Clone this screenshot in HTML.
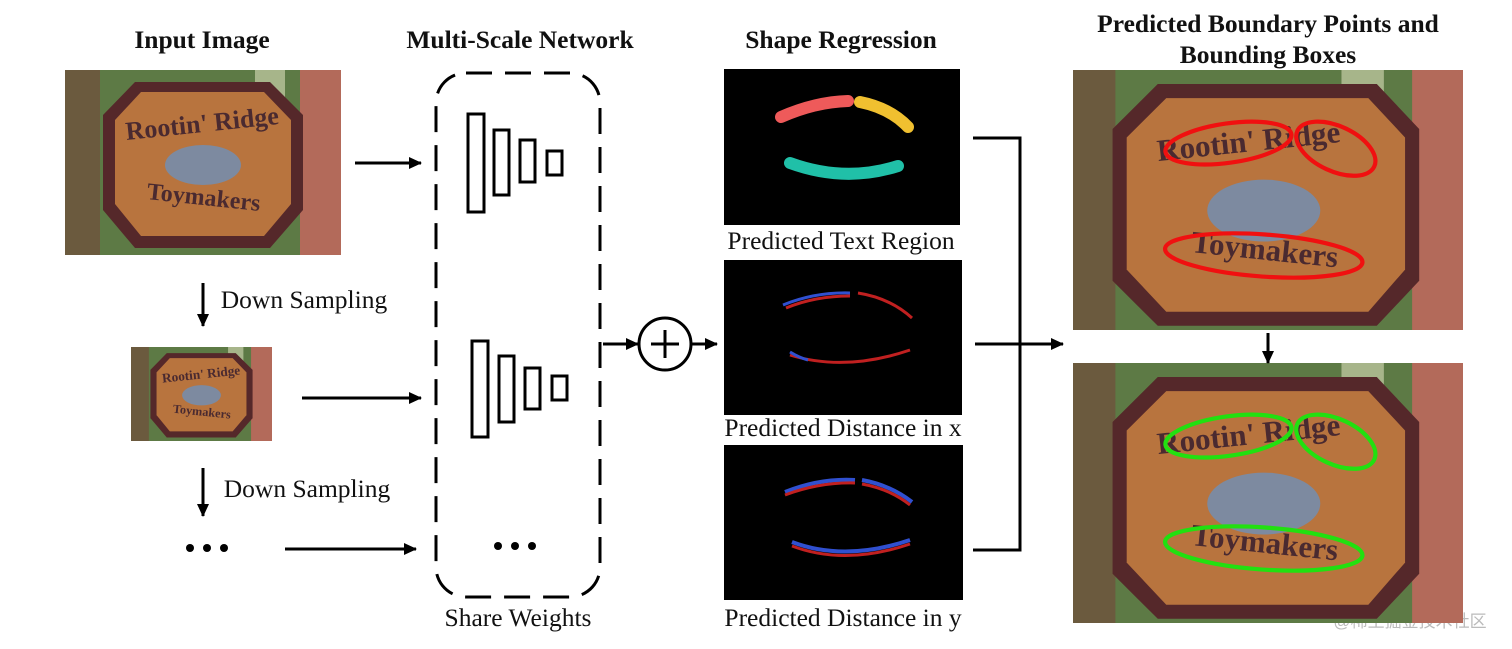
<!DOCTYPE html>
<html><head><meta charset="utf-8"><style>
body{margin:0;background:#fff;}
#c{position:relative;width:1512px;height:649px;overflow:hidden;font-family:"Liberation Serif",serif;}
.t{position:absolute;white-space:nowrap;color:#111;transform:translateX(-50%);line-height:30px;}
.b{font-weight:bold;font-size:25.5px;}
.n{font-size:25.5px;}
svg{position:absolute;}
</style></head><body><div id="c">
<div class="t b" style="left:202px;top:25px">Input Image</div>
<div class="t b" style="left:520px;top:25px">Multi-Scale Network</div>
<div class="t b" style="left:841px;top:25px">Shape Regression</div>
<div class="t b" style="left:1268px;top:9px">Predicted Boundary Points and</div>
<div class="t b" style="left:1268px;top:40px">Bounding Boxes</div>
<div class="t n" style="left:304px;top:285px">Down Sampling</div>
<div class="t n" style="left:307px;top:474px">Down Sampling</div>
<div class="t n" style="left:518px;top:603px">Share Weights</div>
<div class="t n" style="left:841px;top:226px">Predicted Text Region</div>
<div class="t n" style="left:843px;top:413px">Predicted Distance in x</div>
<div class="t n" style="left:843px;top:603px">Predicted Distance in y</div>
<div class="t" style="left:1410px;top:607px;font-size:17px;color:#bbb;font-family:'Liberation Sans','Noto Sans CJK SC',sans-serif">@稀土掘金技术社区</div>

<svg style="left:65px;top:70px" width="276" height="185" viewBox="0 0 276 185" preserveAspectRatio="none">
<rect width="276" height="185" fill="#5d7a45"/><rect x="0" y="0" width="35" height="185" fill="#6b5a3e"/><rect x="235" width="41" height="185" fill="#b36a5a"/><rect x="190" width="30" height="60" fill="#a7b58a"/>
<polygon points="70,12 205,12 238,45 238,140 205,178 70,178 38,140 38,45" fill="#55282a"/>
<polygon points="76,22 199,22 226,50 226,134 199,166 76,166 50,134 50,50" fill="#b8743e"/>
<text x="138" y="62" font-size="26" text-anchor="middle" fill="#4a2a30" font-weight="bold" transform="rotate(-6 138 62)">Rootin' Ridge</text>
<ellipse cx="138" cy="95" rx="38" ry="20" fill="#7d8aa0"/>
<text x="138" y="135" font-size="24" text-anchor="middle" fill="#4a2a30" font-weight="bold" transform="rotate(6 138 135)">Toymakers</text></svg>

<svg style="left:131px;top:347px" width="141" height="94" viewBox="0 0 276 185" preserveAspectRatio="none">
<rect width="276" height="185" fill="#5d7a45"/><rect x="0" width="35" height="185" fill="#6b5a3e"/><rect x="235" width="41" height="185" fill="#b36a5a"/><rect x="190" width="30" height="60" fill="#a7b58a"/>
<polygon points="70,12 205,12 238,45 238,140 205,178 70,178 38,140 38,45" fill="#55282a"/>
<polygon points="76,22 199,22 226,50 226,134 199,166 76,166 50,134 50,50" fill="#b8743e"/>
<text x="138" y="62" font-size="26" text-anchor="middle" fill="#4a2a30" font-weight="bold" transform="rotate(-6 138 62)">Rootin' Ridge</text>
<ellipse cx="138" cy="95" rx="38" ry="20" fill="#7d8aa0"/>
<text x="138" y="135" font-size="24" text-anchor="middle" fill="#4a2a30" font-weight="bold" transform="rotate(6 138 135)">Toymakers</text></svg>

<svg style="left:1073px;top:70px" width="390" height="260" viewBox="0 0 276 185" preserveAspectRatio="none">
<rect width="276" height="185" fill="#5d7a45"/><rect x="0" width="30" height="185" fill="#6b5a3e"/><rect x="240" width="36" height="185" fill="#b36a5a"/><rect x="190" width="30" height="40" fill="#a7b58a"/>
<polygon points="60,10 215,10 245,42 245,150 215,182 60,182 28,150 28,42" fill="#55282a"/>
<polygon points="66,20 209,20 235,48 235,142 209,172 66,172 38,142 38,48" fill="#b8743e"/>
<text x="125" y="58" font-size="22" text-anchor="middle" fill="#4a2a30" font-weight="bold" transform="rotate(-6 125 58)">Rootin' Ridge</text>
<ellipse cx="135" cy="100" rx="40" ry="22" fill="#7d8aa0"/>
<text x="135" y="135" font-size="22" text-anchor="middle" fill="#4a2a30" font-weight="bold" transform="rotate(6 135 135)">Toymakers</text>
<ellipse cx="110" cy="52" rx="45" ry="14" fill="none" stroke="#f01010" stroke-width="3" transform="rotate(-8 110 52)"/>
<ellipse cx="186" cy="56" rx="30" ry="16" fill="none" stroke="#f01010" stroke-width="3" transform="rotate(25 186 56)"/>
<ellipse cx="135" cy="132" rx="70" ry="15" fill="none" stroke="#f01010" stroke-width="3" transform="rotate(4 135 132)"/></svg>

<svg style="left:1073px;top:363px" width="390" height="260" viewBox="0 0 276 185" preserveAspectRatio="none">
<rect width="276" height="185" fill="#5d7a45"/><rect x="0" width="30" height="185" fill="#6b5a3e"/><rect x="240" width="36" height="185" fill="#b36a5a"/><rect x="190" width="30" height="40" fill="#a7b58a"/>
<polygon points="60,10 215,10 245,42 245,150 215,182 60,182 28,150 28,42" fill="#55282a"/>
<polygon points="66,20 209,20 235,48 235,142 209,172 66,172 38,142 38,48" fill="#b8743e"/>
<text x="125" y="58" font-size="22" text-anchor="middle" fill="#4a2a30" font-weight="bold" transform="rotate(-6 125 58)">Rootin' Ridge</text>
<ellipse cx="135" cy="100" rx="40" ry="22" fill="#7d8aa0"/>
<text x="135" y="135" font-size="22" text-anchor="middle" fill="#4a2a30" font-weight="bold" transform="rotate(6 135 135)">Toymakers</text>
<ellipse cx="110" cy="52" rx="45" ry="14" fill="none" stroke="#22e010" stroke-width="3" transform="rotate(-8 110 52)"/>
<ellipse cx="186" cy="56" rx="30" ry="16" fill="none" stroke="#22e010" stroke-width="3" transform="rotate(25 186 56)"/>
<ellipse cx="135" cy="132" rx="70" ry="15" fill="none" stroke="#22e010" stroke-width="3" transform="rotate(4 135 132)"/></svg>

<svg style="left:0;top:0" width="1512" height="649">
<defs><marker id="a" markerWidth="13" markerHeight="12" refX="12" refY="6" orient="auto" markerUnits="userSpaceOnUse"><path d="M0,0 L13,6 L0,12 z" fill="#000"/></marker></defs>
<g stroke="#000" stroke-width="3" fill="none">
<line x1="203" y1="283" x2="203" y2="326" marker-end="url(#a)"/>
<line x1="203" y1="468" x2="203" y2="516" marker-end="url(#a)"/>
<line x1="355" y1="163" x2="421" y2="163" marker-end="url(#a)"/>
<line x1="302" y1="398" x2="421" y2="398" marker-end="url(#a)"/>
<line x1="285" y1="549" x2="416" y2="549" marker-end="url(#a)"/>
<rect x="436" y="73" width="164" height="524" rx="30" stroke-dasharray="26 13"/>
<rect x="468" y="114" width="16" height="98"/><rect x="494" y="130" width="15" height="65"/><rect x="520" y="140" width="15" height="42"/><rect x="547" y="151" width="15" height="24"/>
<rect x="472" y="341" width="16" height="96"/><rect x="499" y="356" width="15" height="66"/><rect x="525" y="368" width="15" height="41"/><rect x="552" y="376" width="15" height="24"/>
<line x1="603" y1="344" x2="638" y2="344" marker-end="url(#a)"/>
<circle cx="665" cy="344" r="26"/>
<line x1="651" y1="344" x2="679" y2="344"/><line x1="665" y1="330" x2="665" y2="358"/>
<line x1="691" y1="344" x2="717" y2="344" marker-end="url(#a)"/>
<polyline points="973,138 1020,138 1020,550 973,550"/>
<line x1="975" y1="344" x2="1063" y2="344" marker-end="url(#a)"/>
<line x1="1268" y1="333" x2="1268" y2="363" marker-end="url(#a)"/>
</g>
<g fill="#000"><circle cx="190" cy="548" r="4"/><circle cx="207" cy="548" r="4"/><circle cx="224" cy="548" r="4"/>
<circle cx="498" cy="546" r="4"/><circle cx="515" cy="546" r="4"/><circle cx="532" cy="546" r="4"/></g>
<rect x="724" y="69" width="236" height="156" fill="#000"/>
<rect x="724" y="260" width="238" height="155" fill="#000"/>
<rect x="724" y="445" width="239" height="155" fill="#000"/>
<g fill="none" stroke-linecap="round" stroke-width="12">
<path d="M781,117 Q815,102 848,101" stroke="#ee5a5a"/>
<path d="M860,102 Q890,108 908,127" stroke="#f0c030"/>
<path d="M790,163 Q845,183 898,166" stroke="#20c0a8"/></g>
<g fill="none" stroke-width="3">
<path d="M783,305 Q815,292 850,293" stroke="#3050d0"/><path d="M786,308 Q815,296 850,296" stroke="#c02020"/>
<path d="M858,293 Q890,298 912,318" stroke="#c02020"/>
<path d="M790,355 Q845,372 910,350" stroke="#c02020"/><path d="M790,352 Q800,358 808,360" stroke="#3050d0"/>
<path d="M785,492 Q820,478 855,480" stroke="#3050d0" stroke-width="4"/><path d="M785,495 Q820,482 855,483" stroke="#c02020"/>
<path d="M862,480 Q890,485 912,502" stroke="#3050d0" stroke-width="4"/><path d="M862,484 Q890,489 910,505" stroke="#c02020"/>
<path d="M792,542 Q845,562 910,540" stroke="#3050d0" stroke-width="4"/><path d="M792,546 Q845,566 910,544" stroke="#c02020"/></g>
</svg>
</div></body></html>
